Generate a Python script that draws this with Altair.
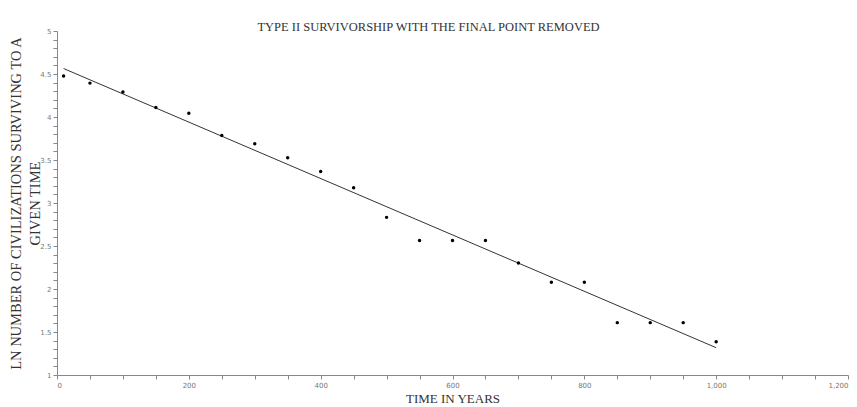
import altair as alt
import pandas as pd
import numpy as np

years = [10, 50, 100, 150, 200, 250, 300, 350, 400, 450, 500,
         550, 600, 650, 700, 750, 800, 850, 900, 950, 1000]
ln_values = [4.477, 4.394, 4.290, 4.111, 4.043, 3.784, 3.689, 3.526, 3.367, 3.178, 2.833,
             2.565, 2.565, 2.565, 2.303, 2.079, 2.079, 1.609, 1.609, 1.609, 1.386]

x_ticks = list(range(0, 1201, 50))
y_ticks = [round(1 + 0.1 * i, 1) for i in range(41)]

df = pd.DataFrame({"t": years, "v": ln_values})

serif = "Liberation Serif"
sans = "DejaVu Sans"

x_enc = alt.X("t:Q", scale=alt.Scale(domain=[0, 1200], nice=False, zero=False),
              axis=alt.Axis(values=x_ticks, grid=False, title="TIME IN YEARS",
                            labelExpr="datum.value % 200 == 0 ? format(datum.value, ',') : ''",
                            labelOverlap=False, labelFontSize=7, labelColor="#777",
                            labelFont=sans, tickColor="#888", domainColor="#888",
                            tickSize=4, labelPadding=2,
                            titleFont=serif, titleFontSize=13, titleFontWeight="normal",
                            titleColor="#333", titlePadding=4))
y_enc = alt.Y("v:Q", scale=alt.Scale(domain=[1, 5], nice=False, zero=False),
              axis=alt.Axis(values=y_ticks, grid=False,
                            title=["LN NUMBER OF CIVILIZATIONS SURVIVING TO A", "GIVEN TIME"],
                            labelExpr="round(datum.value * 10) % 5 == 0 ? format(datum.value, '') : ''",
                            labelOverlap=False, labelFontSize=7, labelColor="#777",
                            labelFont=sans, tickColor="#888", domainColor="#888",
                            tickSize=4, labelPadding=2,
                            titleFont=serif, titleFontSize=14.5, titleFontWeight="normal",
                            titleColor="#333", titlePadding=-3, titleLineHeight=19))

base = alt.Chart(df)
points = base.mark_circle(size=12, color="black", opacity=1).encode(x=x_enc, y=y_enc)
line = base.transform_regression("t", "v").mark_line(color="#333", strokeWidth=1).encode(x=x_enc, y=y_enc)

chart = alt.layer(line, points).properties(
    width=791, height=344,
    title=alt.TitleParams("TYPE II SURVIVORSHIP WITH THE FINAL POINT REMOVED",
                          font=serif, fontSize=12.5, fontWeight="normal", color="#333",
                          anchor="middle", dx=-24, offset=-6),
    autosize=alt.AutoSizeParams(type="none"),
    padding={"left": 57, "top": 31, "right": 9, "bottom": 32},
).configure_view(stroke=None)

chart.save("out.html", embed_options={"renderer": "svg", "actions": False})
